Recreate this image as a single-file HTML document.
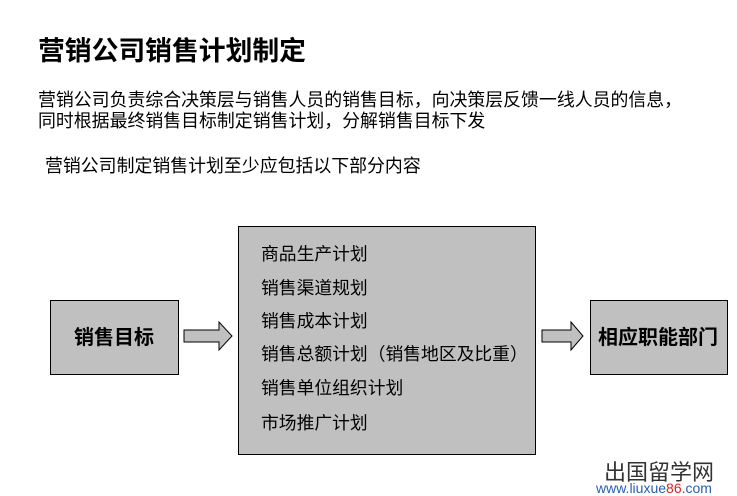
<!DOCTYPE html>
<html><head><meta charset="utf-8"><style>
body{margin:0;width:737px;height:496px;background:#fff;position:relative;overflow:hidden;font-family:"Liberation Sans","Noto Sans CJK SC",sans-serif;color:#000}
.t{position:absolute;white-space:nowrap;line-height:1}
.box{position:absolute;background:#c0c0c0;border:1.5px solid #000;box-sizing:border-box}
</style></head><body>
<div class="t" style="left:38px;top:38px;font-size:26.8px;font-weight:bold">营销公司销售计划制定</div>
<div class="t" style="left:38px;top:92px;font-size:17.9px">营销公司负责综合决策层与销售人员的销售目标，向决策层反馈一线人员的信息，</div>
<div class="t" style="left:38px;top:113px;font-size:17.9px">同时根据最终销售目标制定销售计划，分解销售目标下发</div>
<div class="t" style="left:45px;top:158px;font-size:17.9px">营销公司制定销售计划至少应包括以下部分内容</div>

<div class="box" style="left:50px;top:300px;width:129px;height:75px"></div>
<div class="t" style="left:74px;top:328px;font-size:20px;font-weight:bold">销售目标</div>

<div class="box" style="left:238px;top:226px;width:298px;height:229px"></div>
<div class="t" style="left:261px;top:246px;font-size:17.8px">商品生产计划</div>
<div class="t" style="left:261px;top:280px;font-size:17.8px">销售渠道规划</div>
<div class="t" style="left:261px;top:313px;font-size:17.8px">销售成本计划</div>
<div class="t" style="left:261px;top:346px;font-size:17.8px">销售总额计划（销售地区及比重）</div>
<div class="t" style="left:261px;top:380px;font-size:17.8px">销售单位组织计划</div>
<div class="t" style="left:261px;top:415px;font-size:17.8px">市场推广计划</div>

<div class="box" style="left:590px;top:300px;width:138px;height:75px"></div>
<div class="t" style="left:598px;top:328px;font-size:20px;font-weight:bold">相应职能部门</div>

<svg style="position:absolute;left:0;top:0" width="737" height="496">
<polygon points="184,330 219,330 219,322 232,336 219,350 219,342 184,342" fill="#c0c0c0" stroke="#000" stroke-width="1"/>
<polygon points="542,330 571,330 571,322 583,336 571,350 571,342 542,342" fill="#c0c0c0" stroke="#000" stroke-width="1"/>
</svg>

<div class="t" style="left:604px;top:462px;font-size:22px;color:#333">出国留学网</div>
<div class="t" style="left:596px;top:481px;font-size:14px;color:#2a5db0">www.liuxue<span style="color:#d22">86</span>.com</div>
</body></html>
